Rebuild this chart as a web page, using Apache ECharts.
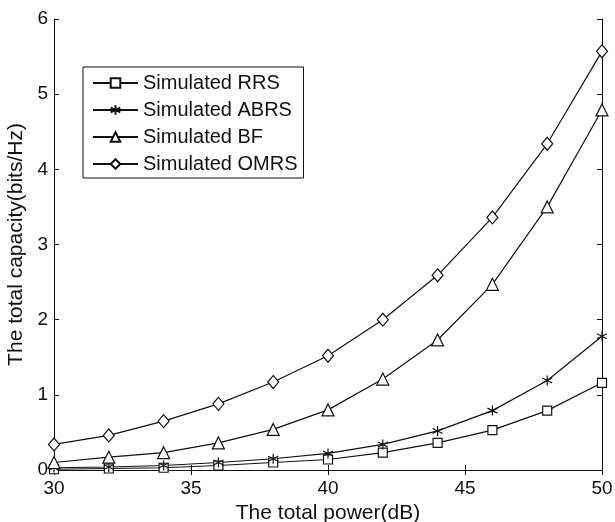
<!DOCTYPE html>
<html>
<head>
<meta charset="utf-8">
<script src="https://cdn.jsdelivr.net/npm/echarts@6/dist/echarts.min.js"></script>
<style>
  html, body { margin: 0; padding: 0; background: #fff; }
  #chart { width: 615px; height: 522px; }
</style>
</head>
<body>
<div id="chart"></div>
<script>
// x 轴: 总功率 (dB)
const powerDb = [30, 32, 34, 36, 38, 40, 42, 44, 46, 48, 50]
// 各方案容量 (bits/Hz)
const rrs = [0.01, 0.02, 0.03, 0.06, 0.10, 0.14, 0.23, 0.36, 0.53, 0.79, 1.16]
const abrs = [0.03, 0.04, 0.06, 0.10, 0.15, 0.22, 0.34, 0.52, 0.79, 1.19, 1.78]
const bf = [0.10, 0.17, 0.23, 0.36, 0.54, 0.80, 1.21, 1.73, 2.47, 3.50, 4.79]
const omrs = [0.34, 0.46, 0.65, 0.88, 1.17, 1.52, 2.00, 2.59, 3.36, 4.34, 5.57]

const names = ['Simulated RRS', 'Simulated ABRS', 'Simulated BF', 'Simulated OMRS']
const xTicks = [30, 35, 40, 45, 50]

const FONT = 'Liberation Sans, Arial, sans-serif'
const INK = '#111'

// 星号标记
const asterisk = 'path://M0,-10L0,10M-8.66,-5L8.66,5M-8.66,5L8.66,-5'

const mkSeries = (name, data, symbol, size) => ({
  name,
  type: 'line',
  data: powerDb.map((x, i) => [x, data[i]]),
  symbol,
  symbolSize: size,
  showAllSymbol: true,
  lineStyle: { color: INK, width: 1.2 },
  itemStyle: { color: '#fff', borderColor: INK, borderWidth: 1.2 },
  emphasis: { disabled: true },
  z: 3
})

const chart = echarts.init(document.getElementById('chart'))

const tickAxis = {
  axisLine: { show: true, lineStyle: { color: INK, width: 1 } },
  axisTick: { show: true, inside: true, length: 5, lineStyle: { color: INK } },
  splitLine: { show: false }
}

chart.setOption({
  animation: false,
  backgroundColor: '#fff',
  grid: { left: 54, right: 13, top: 19, bottom: 52, containLabel: false, outerBoundsMode: 'none' },
  legend: {
    orient: 'vertical',
    left: 83,
    top: 67,
    data: names,
    itemWidth: 45,
    itemHeight: 12,
    itemGap: 7,
    padding: [6, 6, 4, 9],
    borderColor: INK,
    borderWidth: 1,
    backgroundColor: '#fff',
    textStyle: { fontFamily: FONT, fontSize: 20, color: INK, lineHeight: 20 }
  },
  xAxis: [
    {
      type: 'value', min: 30, max: 50, interval: 5,
      name: 'The total power(dB)', nameLocation: 'middle', nameGap: 29,
      nameTextStyle: { fontFamily: FONT, fontSize: 21, color: INK },
      axisLabel: { fontFamily: FONT, fontSize: 19, color: INK, margin: 9,
        formatter: v => xTicks.includes(v) ? String(v) : '' },
      ...tickAxis
    },
    {
      type: 'value', position: 'top', min: 30, max: 50, interval: 5,
      axisLabel: { show: false },
      ...tickAxis
    }
  ],
  yAxis: [
    {
      type: 'value', min: 0, max: 6, interval: 1,
      name: 'The total capacity(bits/Hz)', nameLocation: 'middle', nameGap: 23,
      nameTextStyle: { fontFamily: FONT, fontSize: 21, color: INK },
      axisLabel: { fontFamily: FONT, fontSize: 19, color: INK, margin: 6 },
      ...tickAxis
    },
    {
      type: 'value', position: 'right', min: 0, max: 6, interval: 1,
      axisLabel: { show: false },
      ...tickAxis
    }
  ],
  series: [
    mkSeries(names[0], rrs, 'rect', 9),
    mkSeries(names[1], abrs, asterisk, 10),
    mkSeries(names[2], bf, 'triangle', 12),
    mkSeries(names[3], omrs, 'diamond', [11, 13])
  ]
})

window.addEventListener('resize', () => chart.resize())
</script>
</body>
</html>
